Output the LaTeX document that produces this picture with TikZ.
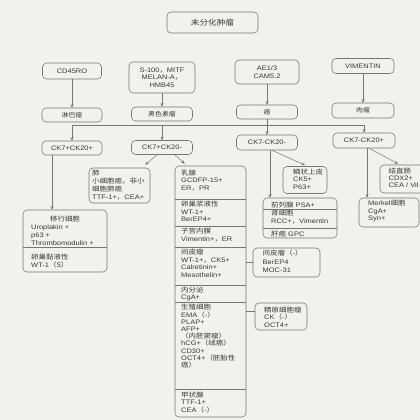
\documentclass[tikz,border=0pt]{standalone}
\usepackage{fontspec}
\setmainfont[FakeStretch=1.15]{Liberation Sans}
\newfontfamily\cjk[FakeStretch=1.15]{Noto Sans CJK SC}
\newcommand\zh[1]{{\cjk #1}}
\usetikzlibrary{arrows.meta}
\definecolor{bgc}{RGB}{241,241,238}
\definecolor{linec}{RGB}{118,118,118}
\definecolor{txtc}{RGB}{55,55,55}
\tikzset{
  box/.style={draw=linec, line width=0.55pt, rounded corners=4pt, inner sep=0pt, text=txtc, align=center, font=\fontsize{6.5}{7.5}\selectfont},
  lbl/.style={anchor=north west, align=left, inner sep=0pt, text=txtc, font=\fontsize{6.5}{7.5}\selectfont},
  arr/.style={draw=linec, line width=0.5pt, -{Stealth[length=3.5pt,width=3pt]}},
  con/.style={draw=linec, line width=0.5pt},
}
\begin{document}
\begin{tikzpicture}[x=1pt,y=-1pt]
\useasboundingbox (0,0) rectangle (420,420);
\clip (0,0) rectangle (420,420);
\fill[bgc] (0,0) rectangle (420,420);

% row 0
\node[box, minimum width=91pt, minimum height=21pt, font=\fontsize{7.5}{9}\selectfont] (root) at (212.5,22.5) {\zh{未分化肿瘤}};

% row 1
\node[box, minimum width=59pt, minimum height=16pt] (cd) at (72,71) {CD45RO};
\node[box, minimum width=66pt, minimum height=31pt] (s100) at (162,77.5) {S-100\zh{，}MITF\\MELAN-A\zh{，}\\HMB45};
\node[box, minimum width=64pt, minimum height=24pt] (ae) at (267,72) {AE1/3\\CAM5.2};
\node[box, minimum width=62pt, minimum height=15pt] (vim) at (363,66) {VIMENTIN};

% row 2
\node[box, minimum width=60pt, minimum height=14pt, font=\fontsize{6}{7}\selectfont] (lin) at (72,115) {\zh{淋巴瘤}};
\node[box, minimum width=61pt, minimum height=14pt, font=\fontsize{6}{7}\selectfont] (hei) at (162,114) {\zh{黑色素瘤}};
\node[box, minimum width=61pt, minimum height=14pt, font=\fontsize{6}{7}\selectfont] (ai) at (267,112) {\zh{癌}};
\node[box, minimum width=62pt, minimum height=15pt, font=\fontsize{6}{7}\selectfont] (rou) at (363,110.5) {\zh{肉瘤}};

\draw[arr] (cd) -- (lin);
\draw[arr] (s100) -- (hei);
\draw[arr] (ae) -- (ai);
\draw[arr] (vim) -- (rou);

% row 3
\node[box, minimum width=60pt, minimum height=14pt] (ck1) at (72,148) {CK7+CK20+};
\node[box, minimum width=61pt, minimum height=14pt] (ck2) at (162,147.5) {CK7+CK20-};
\node[box, minimum width=61pt, minimum height=15pt] (ck3) at (267,142.5) {CK7-CK20-};
\node[box, minimum width=62pt, minimum height=15pt] (ck4) at (364,140.5) {CK7-CK20+};

\coordinate (barL) at (72,125);
\coordinate (barR) at (364,125);
\draw[con] (ai.south) -- (ai.south |- barL);
\draw[con] (barL) -- (barR);
\draw[arr] (barL) -- (ck1.north);
\draw[arr] (ck2.north |- barL) -- (ck2.north);
\draw[arr] (ck3.north |- barL) -- (ck3.north);
\draw[arr] (barR) -- (ck4.north);

% transitional cell box
\node[box, minimum width=84pt, minimum height=62pt] (yi) at (65,241) {};
\draw[con] (23,247) -- (107,247);
\node[anchor=north, inner sep=0pt, text=txtc, font=\fontsize{6.5}{7.5}\selectfont] (yiT) at (65,215.5) {\zh{移行细胞}};
\node[lbl, font=\fontsize{6.5}{7.8}\selectfont] (yiA) at (31,224.8) {Uroplakin +\\p63 +\\Thrombomodulin +};
\node[lbl, font=\fontsize{6.5}{7.8}\selectfont] (yiB) at (31,253.8) {\zh{卵巢黏液性}\\WT-1\zh{（S）}};
\coordinate (yiIn) at ([xshift=-20pt]ck1.south);
\draw[arr] (yiIn) -- (yiIn |- yi.north);

% lung box
\node[box, minimum width=61pt, minimum height=35pt] (fei) at (119.5,185.5) {};
\node[lbl, font=\fontsize{6.5}{7.8}\selectfont] (feiT) at (92,170.2) {\zh{肺}\\\zh{小细胞癌，非小}\\\zh{细胞肺癌}\\TTF-1+\zh{，}CEA+};
\draw[arr] ([xshift=-5pt]ck2.south) -- ([xshift=-5pt,yshift=3pt]fei.north east);

% big box
\node[box, minimum width=71pt, minimum height=251pt] (big) at (210.5,291.5) {};
\foreach \yy in {199.5,226.5,247.5,285,302.5,389.5} \draw[con] (175,\yy) -- (246,\yy);
\node[lbl] (bA) at (181,169.5) {\zh{乳腺}\\GCDFP-15+\\ER\zh{，}PR};
\node[lbl] (bB) at (181,201.1) {\zh{卵巢浆液性}\\WT-1+\\BerEP4+};
\node[lbl] (bC) at (181,227.9) {\zh{子宫内膜}\\Vimentin+\zh{，}ER};
\node[lbl] (bD) at (181,249.3) {\zh{间皮瘤}\\WT-1+\zh{，}CK5+\\Calretinin+\\Mesothelin+};
\node[lbl] (bE) at (181,286.8) {\zh{内分泌}\\CgA+};
\node[lbl, font=\fontsize{6.5}{7.2}\selectfont] (bF) at (181,304.3) {\zh{生殖细胞}\\EMA\zh{（-）}\\PLAP+\\AFP+\\\zh{（内胚窦瘤）}\\hCG+\zh{（绒癌）}\\CD30+\\OCT4+\zh{（胚胎性}\\\zh{癌）}};
\node[lbl] (bG) at (181,391.8) {\zh{甲状腺}\\TTF-1+\\CEA\zh{（-）}};
\draw[arr] ([xshift=13pt]ck2.south) -- ([xshift=10pt,yshift=2pt]big.north west);

% side boxes of big box
\node[box, minimum width=67pt, minimum height=29pt] (xin) at (286.5,262.5) {};
\node[lbl, font=\fontsize{6.5}{8.2}\selectfont] (xinT) at (262.5,250.1) {\zh{间皮瘤（-）}\\BerEP4\\MOC-31};
\draw[con] (big.east |- xin.west) -- (xin.west);
\node[box, minimum width=52pt, minimum height=27pt] (jing) at (281,316.5) {};
\node[lbl] (jingT) at (264,306.8) {\zh{精原细胞瘤}\\CK\zh{（-）}\\OCT4+};
\coordinate (jingIn) at ([yshift=5pt]jing.west);
\draw[con] (big.east |- jingIn) -- (jingIn);

% CK7-CK20- branch
\node[box, minimum width=44pt, minimum height=27pt] (sq) at (305,180) {};
\node[lbl, font=\fontsize{6.5}{7.8}\selectfont] (sqT) at (293,168.5) {\zh{鳞状上皮}\\CK5+\\P63+};
\draw[arr] ([xshift=5pt]ck3.south) -- ([yshift=1pt]sq.north);
\node[box, minimum width=74pt, minimum height=40pt] (qian) at (300,218) {};
\draw[con] (263,209.5) -- (337,209.5);
\draw[con] (263,228.5) -- (337,228.5);
\node[lbl] (qA) at (271,201.8) {\zh{前列腺} PSA+};
\node[lbl, font=\fontsize{6.5}{7.2}\selectfont] (qB) at (271,210.3) {\zh{肾细胞}\\RCC+\zh{，}Vimentin};
\node[lbl] (qC) at (271,230.4) {\zh{肝癌} GPC};
\coordinate (qIn) at ([xshift=3pt]ck3.south);
\draw[arr] (qIn) -- (qIn |- qian.north);

% CK7-CK20+ branch
\node[box, minimum width=60pt, minimum height=28pt] (jie) at (410,179) {};
\node[lbl, font=\fontsize{6.5}{7.2}\selectfont] (jieT) at (388.5,167.5) {\zh{结直肠}\\CDX2+\\CEA / Vil};
\draw[arr] ([xshift=5pt]ck4.south) -- ([xshift=-12pt,yshift=1pt]jie.north);
\node[box, minimum width=60pt, minimum height=29pt] (mk) at (389,212.5) {};
\node[lbl] (mkT) at (368,200.1) {Merkel\zh{细胞}\\CgA+\\Syn+};
\coordinate (mIn) at ([xshift=3pt]ck4.south);
\draw[arr] (mIn) -- (mIn |- mk.north);
\end{tikzpicture}
\end{document}
